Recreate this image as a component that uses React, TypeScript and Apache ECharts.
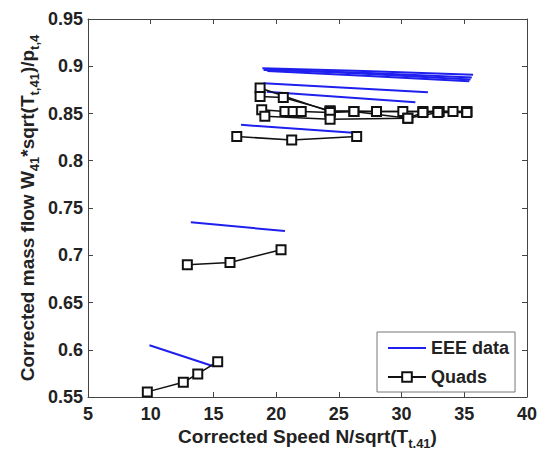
import React, { useEffect, useRef } from "react";
import * as echarts from "echarts";

const xTicks = [5, 10, 15, 20, 25, 30, 35, 40];
const yTicks = [0.55, 0.6, 0.65, 0.7, 0.75, 0.8, 0.85, 0.9, 0.95];

// EEE data lines: [speed, massflow]
const eee1 = [[18.9, 0.898], [27, 0.895], [35.7, 0.891]];
const eee2 = [[19.0, 0.896], [27, 0.893], [35.6, 0.888]];
const eee3 = [[19.2, 0.897], [27, 0.892], [35.5, 0.886]];
const eee4 = [[19.3, 0.895], [27, 0.89], [35.4, 0.884]];
const eee5 = [[19.0, 0.882], [32.1, 0.8725]];
const eee6 = [[19.25, 0.873], [31.1, 0.862]];
const eee7 = [[17.2, 0.838], [26.7, 0.829]];
const eee8 = [[13.2, 0.735], [20.7, 0.7256]];
const eee9 = [[9.9, 0.6047], [15.0, 0.5825]];

// Quads lines
const quadA = [[18.72, 0.877], [24.3, 0.852], [26.2, 0.852], [28.0, 0.852], [30.1, 0.852], [32.9, 0.852], [35.2, 0.852]];
const quadB = [[18.72, 0.868], [20.57, 0.867], [24.3, 0.853], [28.0, 0.852], [31.7, 0.852], [34.1, 0.852]];
const quadC = [[18.85, 0.854], [20.7, 0.852], [21.35, 0.852], [22.0, 0.852], [24.3, 0.851], [26.2, 0.852], [30.5, 0.845], [31.7, 0.851], [33.0, 0.852], [35.2, 0.852]];
const quadD = [[19.1, 0.847], [24.3, 0.844], [30.5, 0.845], [32.9, 0.851], [35.2, 0.851]];
const quadE = [[16.86, 0.8256], [21.24, 0.822], [26.42, 0.8256]];
const quadF = [[12.92, 0.69], [16.32, 0.6924], [20.39, 0.7058]];
const quadG = [[9.73, 0.5554], [12.6, 0.5656], [13.75, 0.5744], [15.34, 0.5874]];

const eeeSeries = [eee1, eee2, eee3, eee4, eee5, eee6, eee7, eee8, eee9];
const quadSeries = [quadA, quadB, quadC, quadD, quadE, quadF, quadG];

const FONT = "'Liberation Sans', Arial, sans-serif";
const AXIS_COLOR = "#444";
const BLUE = "#1f1fee";

export default function App() {
  const ref = useRef<HTMLDivElement>(null);
  useEffect(() => {
    if (!ref.current) return;
    const chart = echarts.init(ref.current, undefined, { renderer: "svg" });
    const rich = {
      a: { fontSize: 19, fontWeight: "bold", fontFamily: FONT, color: "#222", lineHeight: 23, verticalAlign: "top" },
      s: { fontSize: 13, fontWeight: "bold", fontFamily: FONT, color: "#222", lineHeight: 13, verticalAlign: "bottom" },
    };
    const baseAxis = {
      axisLine: { show: true, onZero: false, lineStyle: { color: AXIS_COLOR, width: 1 } },
      axisTick: { show: true, inside: true, length: 5, lineStyle: { color: AXIS_COLOR } },
      splitLine: { show: false },
    };
    chart.setOption({
      animation: false,
      backgroundColor: "#fff",
      grid: { left: 88, right: 18, top: 19, bottom: 59, containLabel: false, outerBoundsMode: "none" },
      legend: {
        orient: "vertical",
        left: 377,
        top: 332,
        data: [{ name: "EEE data", icon: "path://M0,0L40,0L40,2L0,2Z" }, { name: "Quads" }],
        itemWidth: 38,
        itemHeight: 12,
        itemGap: 9,
        padding: [6, 6, 5, 10],
        backgroundColor: "#fff",
        borderColor: "#777",
        borderWidth: 1,
        borderRadius: 0,
        textStyle: { fontSize: 18, fontWeight: "bold", fontFamily: FONT, color: "#222", lineHeight: 20 },
      },
      xAxis: [
        {
          ...baseAxis,
          type: "value",
          min: 5,
          max: 40,
          interval: 5,
          position: "bottom",
          axisLabel: {
            margin: 9,
            fontSize: 18,
            lineHeight: 16,
            fontWeight: "bold",
            fontFamily: FONT,
            color: "#222",
            formatter: (v: number) => {
              const m = xTicks.find((t) => Math.abs(t - v) < 1e-6);
              return m === undefined ? "" : String(m);
            },
          },
          name: "{a|Corrected Speed N/sqrt(T}{s|t,41}{a|)}",
          nameLocation: "middle",
          nameGap: 30,
          nameMoveOverlap: false,
          nameTextStyle: { rich },
        },
        {
          ...baseAxis,
          type: "value",
          min: 5,
          max: 40,
          interval: 5,
          position: "top",
          axisLabel: { show: false },
        },
      ],
      yAxis: [
        {
          ...baseAxis,
          type: "value",
          min: 0.55,
          max: 0.95,
          interval: 0.05,
          position: "left",
          axisLabel: {
            margin: 5,
            fontSize: 18,
            fontWeight: "bold",
            fontFamily: FONT,
            color: "#222",
            formatter: (v: number) => {
              const m = yTicks.find((t) => Math.abs(t - v) < 1e-6);
              return m === undefined ? "" : String(m);
            },
          },
          name: "{a|Corrected mass flow W}{s|41}{a|*sqrt(T}{s|t,41}{a|)/p}{s|t,4}",
          nameLocation: "middle",
          nameGap: 47,
          nameMoveOverlap: false,
          nameTextStyle: { rich },
        },
        {
          ...baseAxis,
          type: "value",
          min: 0.55,
          max: 0.95,
          interval: 0.05,
          position: "right",
          axisLabel: { show: false },
        },
      ],
      series: [
        ...eeeSeries.map((d) => ({
          name: "EEE data",
          type: "line",
          data: d,
          symbol: "none",
          lineStyle: { color: BLUE, width: 2 },
          itemStyle: { color: BLUE },
          z: 2,
        })),
        ...quadSeries.map((d) => ({
          name: "Quads",
          type: "line",
          data: d,
          symbol: "rect",
          symbolSize: 9,
          showAllSymbol: true,
          lineStyle: { color: "#111", width: 1.5 },
          itemStyle: { color: "#fff", borderColor: "#111", borderWidth: 2 },
          z: 3,
        })),
      ],
    });
    return () => chart.dispose();
  }, []);
  return <div ref={ref} style={{ width: 545, height: 456, margin: -8 }} />;
}
